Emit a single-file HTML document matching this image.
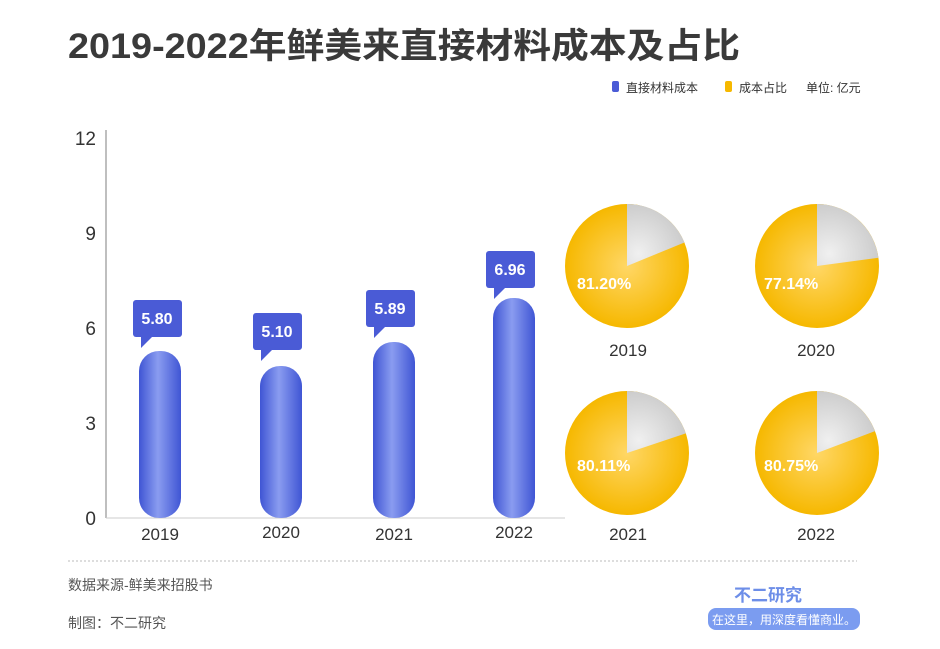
<!DOCTYPE html>
<html><head><meta charset="utf-8"><style>
body{margin:0;width:940px;height:644px;background:#fff;overflow:hidden;font-family:"Liberation Sans","Noto Sans CJK SC",sans-serif}
</style></head><body>
<svg width="940" height="644" xmlns="http://www.w3.org/2000/svg" style="font-family:'Liberation Sans','Noto Sans CJK SC',sans-serif">
<defs>
<linearGradient id="bar" x1="0" x2="1" y1="0" y2="0">
<stop offset="0" stop-color="#3f55d4"/><stop offset="0.45" stop-color="#8a9cf0"/><stop offset="1" stop-color="#3f55d4"/></linearGradient>
<radialGradient id="yel" cx="0.5" cy="0.5" r="0.5"><stop offset="0" stop-color="#ffd766"/><stop offset="1" stop-color="#f6b800"/></radialGradient>
<radialGradient id="gry" cx="0.2" cy="0.8" r="0.9"><stop offset="0" stop-color="#f0f0f0"/><stop offset="1" stop-color="#c8c8c8"/></radialGradient>
</defs>
<text x="68" y="58" font-size="35" font-weight="bold" fill="#3a3a3a" textLength="672" lengthAdjust="spacingAndGlyphs">2019-2022年鲜美来直接材料成本及占比</text>
<rect x="612" y="81" width="7" height="11" rx="2" fill="#4a5bd6"/>
<text x="626" y="92" font-size="12" fill="#333">直接材料成本</text>
<rect x="725" y="81" width="7" height="11" rx="2" fill="#f6b800"/>
<text x="739" y="92" font-size="12" fill="#333">成本占比</text>
<text x="806" y="92" font-size="12" fill="#333">单位: 亿元</text>
<line x1="106" y1="130" x2="106" y2="518" stroke="#aaa" stroke-width="1.5"/>
<g font-size="19" fill="#333" text-anchor="end">
<text x="96" y="145">12</text><text x="96" y="240">9</text><text x="96" y="335">6</text><text x="96" y="430">3</text><text x="96" y="525">0</text></g>
<line x1="106" y1="518" x2="565" y2="518" stroke="#ccc"/>
<g fill="url(#bar)">
<rect x="139" y="351" width="42" height="167" rx="20"/>
<rect x="260" y="366" width="42" height="152" rx="20"/>
<rect x="373" y="342" width="42" height="176" rx="20"/>
<rect x="493" y="298" width="42" height="220" rx="20"/>
</g>
<g fill="#4a5bd6">
<rect x="133" y="300" width="49" height="37" rx="3"/><path d="M141 336 L141 348 L153 336Z"/>
<rect x="253" y="313" width="49" height="37" rx="3"/><path d="M261 349 L261 361 L273 349Z"/>
<rect x="366" y="290" width="49" height="37" rx="3"/><path d="M374 326 L374 338 L386 326Z"/>
<rect x="486" y="251" width="49" height="37" rx="3"/><path d="M494 287 L494 299 L506 287Z"/>
</g>
<g font-size="16" font-weight="bold" fill="#fff" text-anchor="middle">
<text x="157" y="324">5.80</text><text x="277" y="337">5.10</text><text x="390" y="314">5.89</text><text x="510" y="275">6.96</text></g>
<g font-size="17" fill="#333" text-anchor="middle">
<text x="160" y="540">2019</text><text x="281" y="538">2020</text><text x="394" y="540">2021</text><text x="514" y="538">2022</text>
<text x="628" y="356">2019</text><text x="816" y="356">2020</text><text x="628" y="540">2021</text><text x="816" y="540">2022</text></g>
<g transform="translate(627,266)"><circle r="62" fill="url(#yel)"/><path d="M0 0 L0 -62 A62 62 0 0 1 57.4 -23.5Z" fill="url(#gry)"/></g>
<g transform="translate(817,266)"><circle r="62" fill="url(#yel)"/><path d="M0 0 L0 -62 A62 62 0 0 1 61.4 -8.3Z" fill="url(#gry)"/></g>
<g transform="translate(627,453)"><circle r="62" fill="url(#yel)"/><path d="M0 0 L0 -62 A62 62 0 0 1 58.8 -19.6Z" fill="url(#gry)"/></g>
<g transform="translate(817,453)"><circle r="62" fill="url(#yel)"/><path d="M0 0 L0 -62 A62 62 0 0 1 58.0 -21.9Z" fill="url(#gry)"/></g>
<g font-size="16" font-weight="bold" fill="#fff">
<text x="577" y="289">81.20%</text><text x="764" y="289">77.14%</text><text x="577" y="471">80.11%</text><text x="764" y="471">80.75%</text></g>
<line x1="68" y1="561" x2="857" y2="561" stroke="#bbb" stroke-dasharray="2,2"/>
<text x="68" y="590" font-size="14" fill="#555">数据来源-鲜美来招股书</text>
<text x="68" y="628" font-size="14" fill="#555">制图：不二研究</text>
<text x="768" y="601" font-size="17" font-weight="bold" fill="#6d8ee8" text-anchor="middle">不二研究</text>
<rect x="708" y="608" width="152" height="22" rx="8" fill="#7b9cf0"/>
<text x="784" y="624" font-size="12" fill="#fff" text-anchor="middle">在这里，用深度看懂商业。</text>
</svg>
</body></html>
